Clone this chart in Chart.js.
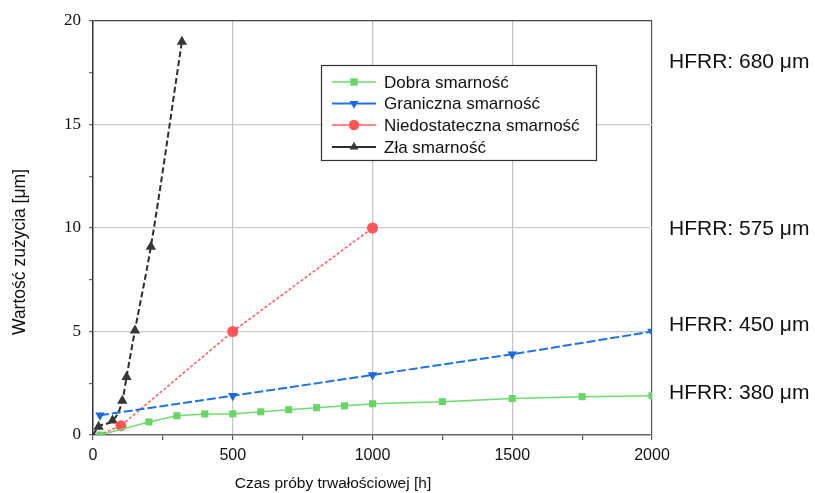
<!DOCTYPE html>
<html>
<head>
<meta charset="utf-8">
<script src="https://cdn.jsdelivr.net/npm/chart.js@4.4.1/dist/chart.umd.min.js"></script>
<style>
html,body{margin:0;padding:0;background:#fff;}
#wrap{position:relative;width:815px;height:493px;}
</style>
</head>
<body>
<div id="wrap"><canvas id="c" width="815" height="493"></canvas></div>
<script>
// ---- data ----
const seriesNames = ["Dobra smarność", "Graniczna smarność", "Niedostateczna smarność", "Zła smarność"];
const dobraX = [25, 200, 300, 400, 500, 600, 700, 800, 900, 1000, 1250, 1500, 1750, 2000];
const dobraY = [0.0, 0.63, 0.93, 1.02, 1.02, 1.12, 1.22, 1.32, 1.41, 1.51, 1.61, 1.76, 1.85, 1.9];
const granX = [25, 500, 1000, 1500, 2000];
const granY = [0.95, 1.9, 2.9, 3.9, 5.0];
const niedoX = [20, 100, 500, 1000];
const niedoY = [0, 0.45, 5.0, 10.0];
const zlaX = [0, 20, 70, 105, 120, 150, 207, 318];
const zlaY = [0, 0.4, 0.7, 1.65, 2.8, 5.05, 9.1, 19.0];
const xTicks = [0, 500, 1000, 1500, 2000];
const yTicks = [0, 5, 10, 15, 20];
const hfrrLabels = ["HFRR: 680 μm", "HFRR: 575 μm", "HFRR: 450 μm", "HFRR: 380 μm"];
const xTitle = "Czas próby trwałościowej [h]";
const yTitle = "Wartość zużycia [μm]";

const pts = (xs, ys) => xs.map((x, i) => ({x: x, y: ys[i]}));

const datasets = [
  {label: seriesNames[0], data: pts(dobraX, dobraY), borderColor: 'rgb(110,222,110)', backgroundColor: 'rgb(100,215,100)',
   borderWidth: 1.5, pointStyle: 'rect', pointRadius: 5, pointBorderWidth: 0},
  {label: seriesNames[1], data: pts(granX, granY), borderColor: 'rgb(30,115,230)', backgroundColor: 'rgb(25,105,230)',
   borderWidth: 2, borderDash: [9, 3], pointStyle: 'triangle', pointRotation: 180, pointRadius: 5.5, pointBorderWidth: 0},
  {label: seriesNames[2], data: pts(niedoX, niedoY), borderColor: 'rgb(255,95,95)', backgroundColor: 'rgb(255,85,85)',
   borderWidth: 1.6, borderDash: [3, 2], pointStyle: 'circle', pointRadius: [0, 5.5, 5.5, 5.5], pointBorderWidth: 0},
  {label: seriesNames[3], data: pts(zlaX, zlaY), borderColor: 'rgb(45,45,45)', backgroundColor: 'rgb(55,55,55)',
   borderWidth: 2, borderDash: [6, 3], pointStyle: 'triangle', pointRadius: [0, 6, 6, 6, 6, 6, 6, 6], pointBorderWidth: 0,
   tension: 0.35, cubicInterpolationMode: 'monotone'}
];

const textPlugin = {
  id: 'texts',
  afterDatasetsDraw(chart) {
    const ctx = chart.ctx;
    ctx.save();
    // legend box
    const lx = 321, ly = 65, lw = 275, lh = 95;
    ctx.fillStyle = '#fff';
    ctx.fillRect(lx, ly, lw, lh);
    ctx.strokeStyle = '#333';
    ctx.lineWidth = 1.2;
    ctx.setLineDash([]);
    ctx.strokeRect(lx + 0.5, ly + 0.5, lw, lh);
    const rows = [82, 103.5, 125, 147];
    chart.data.datasets.forEach((ds, i) => {
      const y = rows[i];
      ctx.strokeStyle = ds.borderColor;
      ctx.lineWidth = ds.borderWidth;
      ctx.setLineDash([]);
      ctx.beginPath(); ctx.moveTo(332, y); ctx.lineTo(376, y); ctx.stroke();
      ctx.fillStyle = ds.backgroundColor;
      ctx.strokeStyle = ds.backgroundColor;
      Chart.helpers.drawPoint(ctx, {pointStyle: ds.pointStyle, rotation: ds.pointRotation || 0, radius: 5.2, borderWidth: 0}, 354, y);
      ctx.fillStyle = '#111';
      ctx.font = '17px "Liberation Sans", Arial, sans-serif';
      ctx.textAlign = 'left';
      ctx.textBaseline = 'middle';
      ctx.fillText(ds.label, 384, y + 1);
    });
    // HFRR labels
    ctx.fillStyle = '#111';
    ctx.font = '21px "Liberation Sans", Arial, sans-serif';
    ctx.textBaseline = 'middle';
    const hy = [62, 229, 325, 393];
    hfrrLabels.forEach((t, i) => ctx.fillText(t, 669, hy[i]));
    // axis titles
    ctx.font = '15.5px "Liberation Sans", Arial, sans-serif';
    ctx.textAlign = 'center';
    ctx.fillText(xTitle, 333, 484);
    ctx.translate(20, 252);
    ctx.rotate(-Math.PI / 2);
    ctx.font = '17.5px "Liberation Sans", Arial, sans-serif';
    ctx.fillText(yTitle, 0, 0);
    ctx.restore();
  }
};

new Chart(document.getElementById('c'), {
  type: 'line',
  data: {datasets: datasets},
  plugins: [textPlugin],
  options: {
    responsive: false,
    animation: false,
    layout: {padding: {left: 0, right: 163, top: 21, bottom: 0}},
    plugins: {legend: {display: false}, tooltip: {enabled: false}},
    scales: {
      x: {
        type: 'linear', min: 0, max: 2000,
        afterFit: s => { s.height = 58; },
        afterBuildTicks: s => { s.ticks = []; for (let v = 0; v <= 2000; v += 250) s.ticks.push({value: v}); },
        ticks: {
          font: {family: '"Liberation Sans", Arial, sans-serif', size: 16}, color: '#111', padding: 6,
          callback: v => xTicks.includes(v) ? String(v) : ''
        },
        grid: {
          color: c => c.tick && c.tick.value === 2000 ? '#555' : (c.tick && xTicks.includes(c.tick.value) && c.tick.value !== 0 ? '#c4c4c4' : 'rgba(0,0,0,0)'),
          tickColor: '#555', tickLength: 5, lineWidth: 1.2
        },
        border: {color: '#666', width: 1.5}
      },
      y: {
        type: 'linear', min: 0, max: 20,
        afterFit: s => { s.width = 93; },
        afterBuildTicks: s => { s.ticks = []; for (let v = 0; v <= 20; v += 2.5) s.ticks.push({value: v}); },
        ticks: {
          font: {family: '"Liberation Serif", "Times New Roman", serif', size: 17}, color: '#111', padding: 8,
          callback: v => yTicks.includes(v) ? String(v) : ''
        },
        grid: {
          color: c => c.tick && c.tick.value === 20 ? '#444' : (c.tick && yTicks.includes(c.tick.value) && c.tick.value !== 0 ? '#cccccc' : 'rgba(0,0,0,0)'),
          tickColor: '#666', tickLength: 4, lineWidth: 1.2
        },
        border: {color: '#333', width: 1.5}
      }
    }
  }
});
</script>
</body>
</html>
